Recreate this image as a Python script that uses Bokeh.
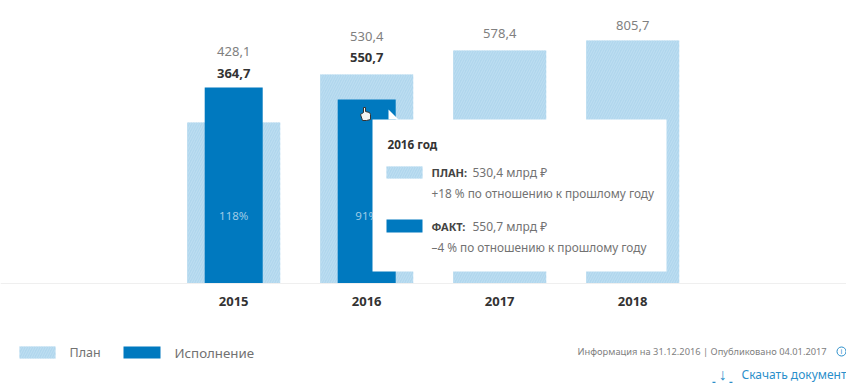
from bokeh.plotting import figure
from bokeh.models import Range1d, FixedTicker
from bokeh.core.properties import value
from bokeh.embed import file_html
from bokeh.resources import INLINE

# --- chart data -------------------------------------------------------
years = [2015, 2016, 2017, 2018]
plan_labels = ["428,1", "530,4", "578,4", "805,7"]
plan_bars = [161, 209, 233, 243]          # drawn heights
fact_years = [2015, 2016]
fact_labels = ["364,7", "550,7"]
fact_bars = [196, 184]
pct_years = [2015, 2016]
pct_labels = ["118%", "91%"]
legend_names = ["План", "Исполнение"]
footer_info = "Информация на 31.12.2016 | Опубликовано 04.01.2017"
download_text = "Скачать документ"
tip_title = "2016 год"
tip_plan = ["ПЛАН:", "530,4 млрд ₽", "+18 % по отношению к прошлому году"]
tip_fact = ["ФАКТ:", "550,7 млрд ₽", "–4 % по отношению к прошлому году"]

# --- style ------------------------------------------------------------
FONT = "Noto Sans"
LIGHT, HATCH, DARK = "#b0d6ed", "#bfdff2", "#0079bf"
GREY, BLACK, LINK = "#727272", "#333333", "#2b8fcb"
W, H = 846, 383
PX_PER_YEAR = 133
X0_PX, BASE_PX = 233.2, 283

p = figure(width=W, height=H, output_backend="svg", toolbar_location=None,
           min_border=0, outline_line_color=None, background_fill_color="white",
           x_range=Range1d(2015 + (0 - X0_PX) / PX_PER_YEAR, 2015 + (W - X0_PX) / PX_PER_YEAR),
           y_range=Range1d(BASE_PX - H, BASE_PX))
p.extra_x_ranges["px"] = Range1d(0, W)
p.extra_y_ranges["px"] = Range1d(H, 0)
p.grid.visible = False
p.yaxis.visible = False

ax = p.xaxis[0]
ax.fixed_location = 0
ax.ticker = FixedTicker(ticks=years)
ax.axis_line_color = "#efefef"
ax.major_tick_line_color = None
ax.minor_tick_line_color = None
ax.major_label_standoff = 7
ax.major_label_text_font = FONT
ax.major_label_text_font_size = "13px"
ax.major_label_text_font_style = "bold"
ax.major_label_text_color = BLACK

hatch = dict(hatch_pattern="right_diagonal_line", hatch_color=HATCH, hatch_scale=5, hatch_weight=1)
p.vbar(x=years, top=plan_bars, bottom=0, width=93 / PX_PER_YEAR, fill_color=LIGHT, line_color=None, **hatch)
p.vbar(x=fact_years, top=fact_bars, bottom=0, width=58 / PX_PER_YEAR, fill_color=DARK, line_color=None)

# percent labels inside the bars
p.text(x=pct_years, y=[68, 68], text=pct_labels, text_align="center", text_baseline="middle",
       text_color="#9fcbe6", text_font=value(FONT), text_font_size="11.5px")

# value labels over the bars
tops = [max(a, b) for a, b in zip(plan_bars, fact_bars + [0, 0])]
plan_gap = [36, 38, 17, 15]
p.text(x=years, y=[t + g for t, g in zip(tops, plan_gap)], text=plan_labels, text_align="center",
       text_baseline="middle", text_color="#808080", text_font=value(FONT), text_font_size="13px")
fact_gap = [14, 17]
p.text(x=fact_years, y=[t + g for t, g in zip(tops, fact_gap)], text=fact_labels, text_align="center",
       text_baseline="middle", text_color=BLACK, text_font=value(FONT), text_font_size="13px",
       text_font_style="bold")


def box(x0, x1, y0, y1, color, hatched=False):
    extra = hatch if hatched else {}
    p.quad(left=x0, right=x1, top=y0, bottom=y1, fill_color=color, line_color=None,
           x_range_name="px", y_range_name="px", **extra)


def label(x, y, txt, size, color=GREY, style="normal", align="left"):
    p.text(x=[x], y=[y], text=[txt], text_align=align, text_baseline="middle", text_color=color,
           text_font=value(FONT), text_font_size=size, text_font_style=style,
           x_range_name="px", y_range_name="px")


# tooltip
box(372, 666, 119, 271, "white")
p.patch(x=[388, 388, 398], y=[109, 119, 119], fill_color="white", line_color=None,
        x_range_name="px", y_range_name="px")
label(387, 143, tip_title, "11.7px", BLACK, "bold")
box(386, 422, 166, 178, LIGHT, True)
label(431, 172, tip_plan[0], "11px", "#444444", "bold")
label(472, 172, tip_plan[1], "12px")
label(431, 192, tip_plan[2], "11.8px")
box(386, 422, 219, 232, DARK)
label(431, 226, tip_fact[0], "11px", "#444444", "bold")
label(472, 226, tip_fact[1], "12px")
label(431, 246, tip_fact[2], "11.8px")

# mouse pointer over the 2016 bar
p.patch(x=[363, 365, 365, 369, 370, 370, 366, 362, 360, 363],
        y=[107, 107, 111, 112, 114, 119, 120, 120, 114, 112],
        fill_color="#f2f2f2", line_color="#333333", line_width=1,
        x_range_name="px", y_range_name="px")

# legend
box(19, 55, 346, 358, LIGHT, True)
label(69, 352, legend_names[0], "12.5px")
box(123, 160, 346, 358, DARK)
label(174, 352, legend_names[1], "13.3px")

# footer
label(577, 351, footer_info, "9.3px", "#808080")
p.scatter(x=[841], y=[351], size=9, fill_color=None, line_color=LINK, x_range_name="px", y_range_name="px")
label(841, 351, "i", "7px", LINK, "normal", "center")
label(722, 373, "↓", "16px", LINK, "bold", "center")
p.segment(x0=[712, 729], y0=[382, 382], x1=[715, 732], y1=[382, 382], line_color=LINK, line_width=1.5,
          x_range_name="px", y_range_name="px")
label(741, 374, download_text, "12px", LINK)

open("out.html", "w").write(file_html(p, INLINE))
